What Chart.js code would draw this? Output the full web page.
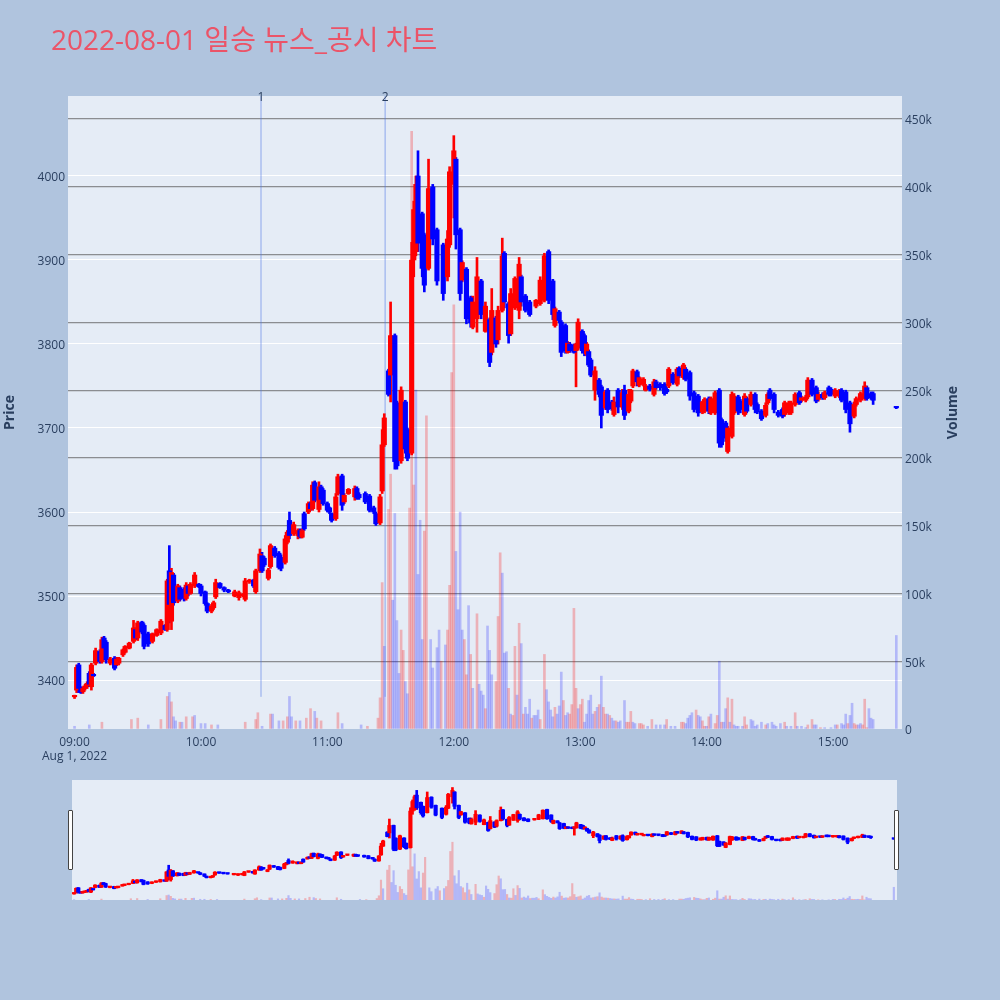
<!DOCTYPE html>
<html><head><meta charset="utf-8">
<script src="https://cdn.jsdelivr.net/npm/chart.js@4.4.0/dist/chart.umd.min.js"></script>
<style>
html,body{margin:0;padding:0;background:#b0c4de;width:1000px;height:1000px;overflow:hidden;font-family:"Open Sans","Noto Sans CJK KR",sans-serif;}
#title{position:absolute;left:51px;top:25px;font-size:28px;line-height:28px;color:rgb(235,84,104);white-space:nowrap;font-family:"Open Sans","Noto Sans CJK KR",sans-serif;}
#main{position:absolute;left:0;top:0;width:1000px;height:780px;}
#slider{position:absolute;left:72px;top:780px;width:825px;height:120px;}
.handle{position:absolute;width:3px;height:58px;top:810px;background:#fff;border:1px solid #444;border-radius:1px;}
</style></head>
<body>
<canvas id="main" width="1000" height="780"></canvas>
<div id="title">2022-08-01 일승 뉴스_공시 차트</div>
<canvas id="slider" width="825" height="120"></canvas>
<div class="handle" style="left:68px"></div>
<div class="handle" style="left:894px"></div>
<script>
// ---- data: minutes after 09:00 ----
const candleMin = [0,1,2,3,4,5,6,7,8,9,
10,12,13,14,15,17,19,20,21,23,
24,26,28,29,30,32,33,35,37,39,
41,43,44,45,46,47,49,50,52,53,
54,55,57,59,60,62,63,65,66,67,
69,71,73,76,78,80,81,83,85,86,
88,89,90,92,93,95,97,98,100,101,
102,104,106,107,108,109,111,112,113,114,
116,117,118,120,121,122,124,125,127,128,
130,133,134,135,138,140,142,143,145,146,
147,149,150,152,153,155,157,158,160,161,
162,163,165,166,168,170,172,175,177,178,
180,181,183,184,186,188,189,191,193,195,
197,198,200,201,203,204,206,207,209,211,
212,214,216,219,221,223,225,227,228,230,
231,233,234,235,237,238,239,241,242,243,
244,245,247,249,250,252,253,255,256,258,
260,261,263,264,265,267,268,270,271,273,
275,276,278,280,281,282,284,286,287,289,
290,292,294,296,298,299,301,302,304,306,
307,309,310,312,313,315,316,318,319,321,
323,324,326,328,329,330,332,334,336,337,
339,340,342,344,345,347,348,350,352,353,
355,356,358,359,361,363,364,366,368,370,
371,373,375,376,378,379,390];
const candleOpen = [3380,3388,3418,3390,3386,3390,3393,3408,3392,3406,
3420,3434,3422,3450,3445,3420,3426,3418,3420,3430,
3433,3438,3446,3460,3450,3469,3465,3455,3446,3453,
3456,3465,3460,3530,3470,3525,3494,3510,3508,3497,
3512,3503,3512,3514,3512,3505,3491,3482,3486,3499,
3515,3510,3507,3500,3498,3500,3496,3517,3519,3505,
3530,3548,3545,3521,3535,3557,3551,3546,3540,3564,
3590,3574,3572,3578,3570,3598,3600,3610,3604,3635,
3603,3630,3626,3610,3605,3598,3592,3622,3643,3612,
3622,3618,3628,3621,3622,3619,3605,3598,3587,3625,
3680,3768,3763,3810,3730,3661,3731,3698,3670,3900,
3910,4000,3955,3930,3890,3987,3936,3918,3880,3918,
3990,4020,3936,3876,3889,3855,3820,3830,3875,3815,
3829,3790,3831,3805,3840,3908,3848,3812,3843,3840,
3880,3857,3850,3845,3848,3852,3910,3875,3822,3838,
3826,3822,3790,3800,3799,3792,3795,3815,3810,3788,
3791,3781,3745,3757,3749,3724,3745,3731,3716,3745,
3725,3745,3720,3732,3750,3767,3751,3752,3745,3750,
3740,3755,3752,3752,3746,3750,3764,3752,3771,3760,
3770,3766,3742,3738,3719,3720,3735,3718,3718,3745,
3710,3706,3672,3690,3718,3737,3732,3716,3735,3728,
3740,3728,3720,3715,3730,3745,3740,3719,3722,3716,
3718,3718,3728,3742,3733,3733,3737,3757,3748,3734,
3740,3736,3748,3746,3738,3738,3745,3743,3730,3714,
3728,3733,3735,3748,3741,3741,3725];
const candleHigh = [3382,3418,3420,3392,3392,3395,3398,3410,3420,3408,
3438,3436,3451,3452,3447,3427,3428,3427,3427,3437,
3441,3445,3471,3462,3470,3470,3467,3457,3456,3461,
3472,3466,3520,3560,3533,3527,3514,3512,3510,3516,
3513,3516,3528,3515,3514,3506,3492,3490,3494,3520,
3516,3511,3508,3507,3506,3503,3521,3520,3520,3532,
3556,3552,3547,3533,3562,3559,3553,3549,3572,3578,
3600,3588,3580,3580,3580,3600,3612,3612,3636,3637,
3636,3632,3628,3612,3606,3599,3622,3645,3645,3622,
3628,3631,3630,3623,3624,3621,3607,3600,3621,3698,
3717,3770,3850,3812,3732,3749,3733,3700,3921,3970,
4000,4030,3957,3932,4020,3990,3938,3920,3935,4011,
4048,4022,3938,3899,3891,3857,3857,3903,3877,3850,
3831,3866,3833,3845,3926,3910,3850,3866,3880,3903,
3882,3859,3852,3853,3880,3908,3912,3877,3844,3840,
3828,3824,3803,3802,3800,3801,3830,3817,3812,3802,
3793,3783,3773,3759,3751,3745,3747,3733,3737,3747,
3746,3751,3746,3746,3770,3769,3761,3760,3752,3752,
3758,3757,3754,3754,3748,3772,3766,3772,3773,3777,
3772,3768,3744,3740,3732,3736,3737,3737,3744,3747,
3712,3708,3702,3743,3741,3739,3734,3741,3737,3743,
3742,3730,3722,3730,3742,3747,3742,3721,3724,3732,
3732,3732,3742,3744,3738,3739,3760,3759,3750,3743,
3742,3744,3750,3748,3747,3746,3747,3745,3732,3731,
3737,3743,3755,3750,3743,3743,3725];
const candleLow = [3378,3385,3385,3384,3384,3388,3390,3392,3388,3404,
3418,3420,3420,3436,3420,3418,3412,3417,3418,3428,
3432,3437,3444,3448,3447,3455,3437,3440,3444,3452,
3454,3459,3458,3468,3460,3489,3492,3494,3494,3495,
3500,3502,3510,3510,3500,3489,3480,3480,3484,3497,
3509,3505,3504,3499,3495,3499,3494,3515,3510,3503,
3528,3528,3535,3519,3533,3546,3532,3530,3538,3562,
3568,3572,3568,3569,3569,3578,3598,3602,3602,3612,
3600,3610,3608,3600,3598,3588,3590,3620,3602,3610,
3621,3614,3615,3615,3610,3600,3598,3584,3585,3622,
3678,3738,3731,3651,3651,3658,3670,3661,3668,3880,
3905,3910,3880,3862,3888,3918,3870,3852,3875,3915,
3950,3913,3852,3874,3824,3820,3818,3814,3830,3814,
3773,3787,3796,3800,3838,3843,3801,3810,3841,3830,
3845,3838,3833,3843,3846,3850,3848,3829,3820,3825,
3785,3789,3789,3790,3789,3749,3793,3789,3786,3786,
3773,3761,3733,3737,3700,3722,3718,3721,3714,3718,
3722,3710,3718,3730,3748,3750,3749,3750,3744,3744,
3738,3746,3745,3739,3741,3748,3752,3750,3760,3758,
3756,3733,3719,3714,3717,3718,3717,3716,3716,3677,
3677,3684,3670,3688,3716,3716,3718,3714,3718,3726,
3718,3717,3709,3713,3728,3733,3718,3713,3712,3714,
3716,3716,3726,3728,3731,3731,3735,3738,3730,3732,
3734,3734,3738,3738,3736,3736,3731,3718,3695,3712,
3726,3731,3733,3733,3734,3728,3723];
const candleClose = [3381,3415,3390,3386,3390,3393,3396,3395,3418,3405,
3435,3422,3448,3438,3424,3425,3414,3425,3426,3436,
3440,3444,3462,3450,3468,3457,3440,3443,3455,3460,
3470,3460,3518,3490,3528,3492,3512,3496,3497,3513,
3503,3514,3525,3511,3503,3491,3482,3488,3492,3516,
3510,3507,3505,3505,3504,3502,3518,3519,3512,3530,
3550,3530,3537,3531,3560,3548,3534,3533,3568,3576,
3572,3585,3578,3571,3578,3580,3610,3604,3632,3614,
3630,3615,3610,3602,3600,3590,3618,3642,3608,3620,
3627,3628,3617,3617,3612,3602,3600,3586,3618,3680,
3712,3740,3810,3660,3655,3745,3675,3664,3900,3960,
3990,3920,3890,3870,3985,3925,3875,3860,3925,4005,
4030,3930,3860,3897,3830,3825,3850,3880,3835,3845,
3778,3840,3800,3840,3905,3850,3810,3860,3878,3895,
3850,3840,3835,3852,3876,3905,3852,3835,3842,3828,
3790,3792,3801,3792,3790,3800,3826,3792,3790,3800,
3775,3763,3768,3740,3715,3743,3722,3723,3731,3725,
3742,3715,3740,3745,3768,3755,3760,3758,3750,3746,
3755,3748,3748,3741,3743,3770,3754,3770,3762,3775,
3758,3738,3722,3718,3731,3734,3720,3735,3742,3682,
3680,3688,3700,3740,3738,3720,3722,3738,3720,3740,
3722,3719,3711,3727,3740,3735,3722,3715,3714,3730,
3730,3730,3740,3730,3736,3737,3757,3740,3732,3740,
3736,3742,3740,3740,3745,3744,3733,3722,3705,3728,
3735,3741,3750,3735,3736,3733,3724];

// volume (thousands of shares), minute, up(1)/down(0)
const volMin = [0,7,13,27,30,35,41,44,45,46,
47,48,50,51,53,56,57,60,62,65,
68,81,86,87,89,93,94,97,99,101,
102,103,105,107,110,112,114,115,117,125,
127,136,139,144,145,146,147,149,150,151,
152,153,154,155,156,157,158,159,160,161,
162,163,164,165,166,167,169,170,172,173,
174,176,177,178,179,180,181,182,183,184,
185,186,187,188,189,191,192,193,194,195,
196,197,198,200,201,202,203,204,205,206,
207,208,209,210,211,212,213,214,215,216,
217,218,219,220,221,223,224,225,226,227,
228,229,230,231,232,233,234,235,236,237,
238,239,240,241,242,243,244,245,246,247,
248,249,250,251,252,253,254,255,256,257,
258,259,261,262,263,264,265,266,268,269,
270,272,274,276,278,280,281,283,285,288,
289,290,291,292,293,295,296,297,298,299,
300,301,302,304,305,306,307,308,309,310,
311,312,313,314,315,317,318,319,321,322,
323,324,326,328,329,331,332,333,335,337,
338,340,342,343,345,347,348,350,351,352,
354,356,359,361,362,364,365,366,367,368,
369,370,371,372,373,374,375,376,377,378,
379,390];
const volK = [2,3,5,7,8,3,7,24,27,20,
9,6,5,5,9,9,10,4,4,3,
3,5,7,12,2,11,11,6,6,9,
24,9,6,6,8,15,13,8,6,12,
4,3,2,8,23,108,61,162,188,95,
159,80,41,73,58,35,26,163,441,180,
250,114,154,66,146,231,66,45,60,73,
50,62,73,106,263,313,131,88,160,73,
66,40,91,55,30,85,33,28,25,15,
76,58,40,35,83,130,115,56,57,30,
11,10,61,25,78,63,11,16,11,22,
8,10,10,14,7,55,29,20,14,9,
16,11,17,42,21,10,12,11,18,89,
30,15,18,22,5,11,21,25,11,13,
16,18,39,16,11,11,10,8,6,6,
5,6,21,5,5,13,5,4,4,4,
3,2,7,3,3,3,7,2,2,5,
5,4,8,10,12,14,10,9,6,2,
2,9,11,4,10,50,5,5,15,23,
5,22,3,2,2,2,9,3,7,6,
2,3,5,3,4,5,3,2,4,5,
2,2,12,2,2,1,3,7,3,3,
1,1,1,3,3,4,3,11,4,10,
19,4,3,3,4,3,22,1,15,8,
7,69];
const volUp = [0,0,1,1,1,0,1,1,0,1,
0,0,1,0,1,1,0,0,0,1,
0,1,1,1,0,1,0,0,1,1,
0,0,1,0,1,1,0,1,1,1,
0,0,1,1,1,1,0,1,1,0,
0,0,0,1,1,0,0,1,1,1,
0,0,0,0,1,1,0,0,0,0,
1,0,1,1,1,1,0,0,0,0,
1,1,0,1,0,1,0,0,0,1,
0,0,0,1,1,1,0,0,0,1,
0,1,1,0,1,0,1,0,0,0,
1,0,0,0,1,1,0,0,0,0,
1,0,0,0,1,0,0,1,1,1,
1,0,1,1,0,0,0,0,0,1,
0,1,0,1,1,0,1,0,0,1,
0,0,0,1,1,1,0,0,1,1,
1,0,1,0,0,0,1,0,0,1,
1,0,0,0,0,1,0,0,1,1,
0,1,0,1,1,0,1,0,0,1,
0,1,0,0,0,0,1,1,0,0,
0,0,0,1,0,0,0,0,0,1,
0,0,1,0,0,0,1,1,0,0,
1,0,0,0,1,0,0,0,1,0,
0,1,1,0,0,1,1,1,0,0,
0,0];

// news markers
const newsMin = [88.5, 147.4];
const newsLabel = ['1', '2'];
const newsLow = 3380;

// axes
const timeTicks = [0, 60, 120, 180, 240, 300, 360];
const timeLabels = ['09:00', '10:00', '11:00', '12:00', '13:00', '14:00', '15:00'];
const dateLabel = 'Aug 1, 2022';
const priceTicks = [3400, 3500, 3600, 3700, 3800, 3900, 4000];
const volTicks = [0, 50, 100, 150, 200, 250, 300, 350, 400, 450];
const volTickLabels = ['0', '50k', '100k', '150k', '200k', '250k', '300k', '350k', '400k', '450k'];
const yTitle = 'Price', y2Title = 'Volume';

const priceMin = 3341.7, priceMax = 4095.2, volMax = 467;
const timeMin = -3.1, timeMax = 392.7;
const sliderTimeMin = -1, sliderTimeMax = 391.5, sliderVolMax = 650;

const UP = '#ff0000', DOWN = '#0000ff';
const FONT = '"Open Sans", "Noto Sans", sans-serif';
const TXT = '#2a3f5f';

function buildDatasets(wickW, bodyW, volW, withNews) {
  const cols = candleMin.map((_, i) => candleClose[i] >= candleOpen[i] ? UP : DOWN);
  const ds = [
    { type: 'bar', label: 'body', yAxisID: 'y', grouped: false, order: 0,
      data: candleMin.map((t, i) => ({ x: t, y: [candleOpen[i], candleClose[i]] })),
      backgroundColor: cols, barThickness: bodyW, minBarLength: 1.5 },
    { type: 'bar', label: 'wick', yAxisID: 'y', grouped: false, order: 1,
      data: candleMin.map((t, i) => ({ x: t, y: [candleLow[i], candleHigh[i]] })),
      backgroundColor: cols, barThickness: wickW },
    { type: 'bar', label: 'volume', yAxisID: 'yv', grouped: false, order: 3,
      data: volMin.map((t, i) => ({ x: t, y: volK[i] })),
      backgroundColor: volUp.map(u => u ? 'rgba(255,0,0,0.25)' : 'rgba(0,0,255,0.22)'),
      barThickness: volW }
  ];
  if (withNews) {
    newsMin.forEach((t, i) => ds.push({
      type: 'line', label: 'news' + newsLabel[i], yAxisID: 'y', order: 2,
      data: [{ x: t, y: newsLow }, { x: t, y: priceMax }],
      borderColor: 'rgba(80,120,230,0.6)', borderWidth: 1, pointRadius: 0, fill: false
    }));
  }
  return ds;
}

const plotBg = { id: 'plotBg', beforeDraw(chart) {
  const { ctx, chartArea: a } = chart;
  ctx.save(); ctx.fillStyle = '#e5ecf6';
  ctx.fillRect(a.left, a.top, a.right - a.left, a.bottom - a.top);
  ctx.restore();
} };

const annot = { id: 'annot', afterDraw(chart) {
  const { ctx, chartArea: a, scales } = chart;
  const cy = (a.top + a.bottom) / 2;
  ctx.save();
  ctx.fillStyle = TXT; ctx.textAlign = 'center'; ctx.textBaseline = 'middle';
  ctx.font = 'bold 14px ' + FONT;
  ctx.save(); ctx.translate(10, cy); ctx.rotate(-Math.PI / 2); ctx.fillText(yTitle, 0, 0); ctx.restore();
  ctx.save(); ctx.translate(953, cy); ctx.rotate(-Math.PI / 2); ctx.fillText(y2Title, 0, 0); ctx.restore();
  ctx.font = '12px ' + FONT;
  newsMin.forEach((t, i) => {
    ctx.fillText(newsLabel[i], scales.x.getPixelForValue(t), a.top + 1.5);
  });
  ctx.restore();
} };

new Chart(document.getElementById('main'), {
  type: 'bar',
  data: { datasets: buildDatasets(2, 4.5, 2, true) },
  plugins: [plotBg, annot],
  options: {
    responsive: false, animation: false, events: [],
    layout: { padding: { top: 96, left: 0, right: 0, bottom: 0 } },
    plugins: { legend: { display: false }, tooltip: { enabled: false } },
    scales: {
      x: { type: 'linear', min: timeMin, max: timeMax, offset: false,
        afterBuildTicks: s => { s.ticks = timeTicks.map(v => ({ value: v })); },
        afterFit: s => { s.height = 51; },
        grid: { display: false, drawTicks: false }, border: { display: false },
        ticks: { padding: 6, color: TXT, font: { family: FONT, size: 12 }, maxRotation: 0, autoSkip: false,
          callback: (v, i) => i === 0 ? [timeLabels[i], dateLabel] : timeLabels[i] } },
      y: { position: 'left', min: priceMin, max: priceMax,
        afterBuildTicks: s => { s.ticks = priceTicks.map(v => ({ value: v })); },
        afterFit: s => { s.width = 68; },
        grid: { color: '#ffffff', lineWidth: 1, drawTicks: false }, border: { display: false },
        ticks: { padding: 3, labelOffset: 2, color: TXT, font: { family: FONT, size: 12 }, callback: v => String(v) } },
      yv: { position: 'right', min: 0, max: volMax,
        afterBuildTicks: s => { s.ticks = volTicks.map(v => ({ value: v })); },
        afterFit: s => { s.width = 98; },
        grid: { color: c => (c.tick && c.tick.value === 0) ? 'rgba(0,0,0,0)' : 'rgba(90,90,90,0.65)', lineWidth: 1.2, drawTicks: false },
        border: { display: false },
        ticks: { padding: 3, labelOffset: 2, color: TXT, font: { family: FONT, size: 12 }, callback: (v, i) => volTickLabels[i] } }
    }
  }
});

new Chart(document.getElementById('slider'), {
  type: 'bar',
  data: { datasets: buildDatasets(2, 3.5, 1.5, false) },
  plugins: [plotBg],
  options: {
    responsive: false, animation: false, events: [],
    layout: { padding: 0 },
    plugins: { legend: { display: false }, tooltip: { enabled: false } },
    scales: {
      x: { type: 'linear', display: false, min: sliderTimeMin, max: sliderTimeMax, offset: false },
      y: { display: false, min: priceMin, max: priceMax },
      yv: { display: false, min: 0, max: sliderVolMax }
    }
  }
});
</script>
</body></html>
